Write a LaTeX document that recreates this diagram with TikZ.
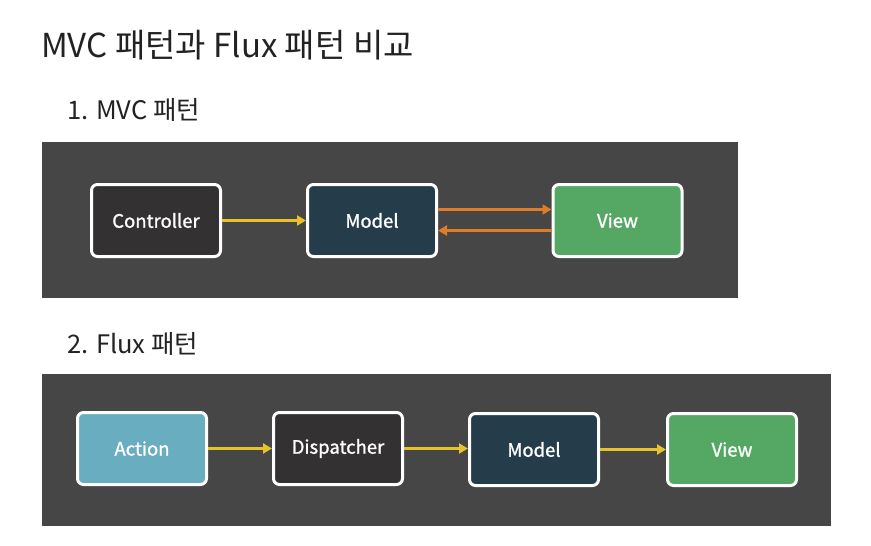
\documentclass[tikz,border=0pt]{standalone}
\usepackage{fontspec}
\setmainfont{Noto Sans CJK KR}
\newfontfamily\boxfont{Noto Sans CJK KR}[FakeBold=1.2]
\usetikzlibrary{arrows.meta}
\definecolor{panel}{HTML}{464646}
\definecolor{ctrl}{HTML}{333131}
\definecolor{model}{HTML}{253D4A}
\definecolor{viewc}{HTML}{55A863}
\definecolor{actc}{HTML}{68ADC0}
\definecolor{yel}{HTML}{E8C22A}
\definecolor{ora}{HTML}{E07B28}
\definecolor{txt}{HTML}{222222}
\tikzset{
  box/.style={draw=white, line width=3pt, rounded corners=6pt, minimum width=129pt, minimum height=72pt, text=white, font=\boxfont\fontsize{18.5}{22}\selectfont, inner sep=0pt},
  yarr/.style={draw=yel, line width=2.3pt, -{Triangle[length=9pt,width=10pt]}},
  oarr/.style={draw=ora, line width=2.3pt, -{Triangle[length=9pt,width=10pt]}},
}
\begin{document}
\begin{tikzpicture}[x=1pt,y=-1pt]
\useasboundingbox[fill=white] (0,0) rectangle (871,546);
\node[anchor=base west, text=txt, font=\fontsize{33}{38}\selectfont, inner sep=0pt] (title) at (41,57) {MVC 패턴과 Flux 패턴 비교};
\node[anchor=base west, text=txt, font=\fontsize{25.5}{30}\selectfont, inner sep=0pt] (h1) at (67,119) {1. MVC 패턴};
\node[anchor=base west, text=txt, font=\fontsize{25.5}{30}\selectfont, inner sep=0pt] (h2) at (67,353) {2. Flux 패턴};
\fill[panel] (42,142) rectangle (738,298);
\fill[panel] (42,374) rectangle (831,526);
% MVC row
\node[box, fill=ctrl] (ctrl) at (156,220.5) {Controller};
\node[box, fill=model] (m1) at (372,220.5) {Model};
\node[box, fill=viewc] (v1) at (617.5,220.5) {View};
\draw[yarr] (ctrl.east) -- (m1.west);
\draw[oarr] ([yshift=11pt]m1.east) -- ([yshift=11pt]v1.west);
\draw[oarr] ([yshift=-10pt]v1.west) -- ([yshift=-10pt]m1.east);
% Flux row
\node[box, fill=actc] (act) at (142,448.5) {Action};
\node[box, fill=ctrl] (disp) at (338,448.5) {Dispatcher};
\node[box, fill=model] (m2) at (534,449.5) {Model};
\node[box, fill=viewc] (v2) at (732,449.5) {View};
\draw[yarr] (act.east) -- (disp.west |- act.east);
\draw[yarr] (disp.east) -- (m2.west |- disp.east);
\draw[yarr] (m2.east) -- (v2.west);
\end{tikzpicture}
\end{document}
